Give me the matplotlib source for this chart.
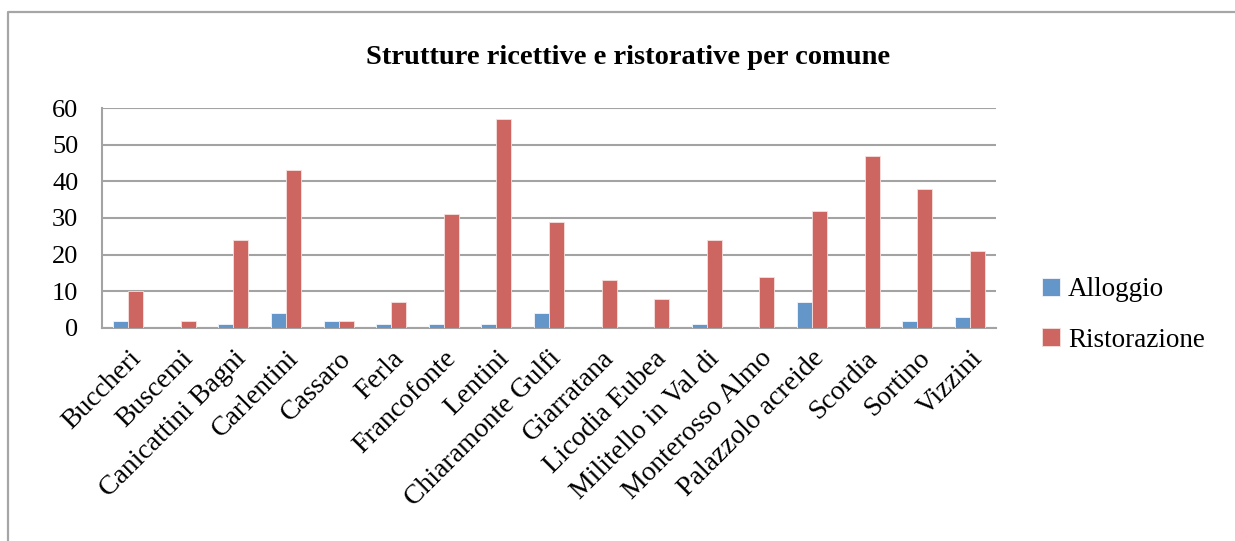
import matplotlib
matplotlib.use("Agg")
import matplotlib.pyplot as plt
from matplotlib.lines import Line2D
import numpy as np

comuni = ["Buccheri", "Buscemi", "Canicattini Bagni", "Carlentini", "Cassaro",
          "Ferla", "Francofonte", "Lentini", "Chiaramonte Gulfi", "Giarratana",
          "Licodia Eubea", "Militello in Val di", "Monterosso Almo",
          "Palazzolo acreide", "Scordia", "Sortino", "Vizzini"]
alloggio = [2, 0, 1, 4, 2, 1, 1, 1, 4, 0, 0, 1, 0, 7, 0, 2, 3]
ristorazione = [10, 2, 24, 43, 2, 7, 31, 57, 29, 13, 8, 24, 14, 32, 47, 38, 21]
y_ticks = [0, 10, 20, 30, 40, 50, 60]

W, H = 1235, 541
fig = plt.figure(figsize=(W / 100, H / 100), dpi=100)
fig.patch.set_facecolor("white")

serif = ["Liberation Serif", "DejaVu Serif"]
grid_col = "#a3a3a3"

# chart frame (left and top edges)
fig.add_artist(Line2D([8 / W, 8 / W, 1.0], [0.0, 1 - 12 / H, 1 - 12 / H],
                      transform=fig.transFigure, color="#a6a6a6", lw=1.6))

ax = fig.add_axes([102 / W, 1 - 328 / H, (996 - 102) / W, (328 - 108) / H])

x = np.arange(len(comuni))
w = 1 / 3.5
ax.bar(x - w / 2, alloggio, width=w, color="#6496ca", edgecolor="#f2f6fb",
       linewidth=0.6, label="Alloggio", zorder=3)
ax.bar(x + w / 2, ristorazione, width=w, color="#cd6660", edgecolor="#f6e0de",
       linewidth=0.6, label="Ristorazione", zorder=3)

ax.set_xlim(-0.5, len(comuni) - 0.5)
ax.set_ylim(0, 60)
ax.set_yticks(y_ticks)
ax.set_yticklabels([str(t) for t in y_ticks], fontfamily=serif, fontsize=19)
ax.tick_params(axis="y", length=0, pad=17)
ax.yaxis.grid(True, color=grid_col, lw=1.5, zorder=0)
ax.set_axisbelow(True)

for s in ["top", "right"]:
    ax.spines[s].set_visible(False)
for s in ["left", "bottom"]:
    ax.spines[s].set_color(grid_col)
    ax.spines[s].set_linewidth(1.5)

ax.set_xticks(x)
ax.set_xticklabels(comuni, fontfamily=serif, fontsize=20, rotation=45,
                   ha="right", rotation_mode="anchor")
ax.tick_params(axis="x", length=0, pad=13)

fig.text(628 / W, 1 - 57 / H, "Strutture ricettive e ristorative per comune",
         ha="center", va="center", fontfamily=serif, fontweight="bold", fontsize=20.5)

leg = ax.legend(loc="center left", bbox_to_anchor=(1018 / W, 1 - 315 / H),
                bbox_transform=fig.transFigure, frameon=False,
                prop={"family": serif, "size": 19.5}, handlelength=0.65,
                handleheight=0.65, handletextpad=0.3, labelspacing=0.95)

fig.savefig("out.png", dpi=100, facecolor="white")
